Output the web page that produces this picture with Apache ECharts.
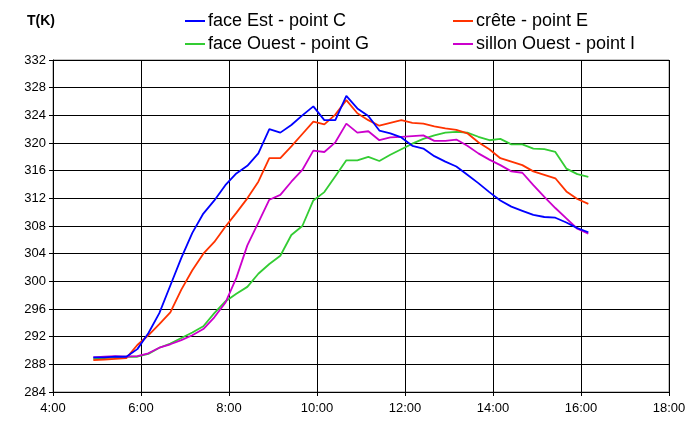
<!DOCTYPE html>
<html><head><meta charset="utf-8">
<script src="https://cdn.jsdelivr.net/npm/echarts@6/dist/echarts.min.js"></script>
<style>html,body{margin:0;padding:0;background:#fff}#c{width:693px;height:425px}</style>
</head><body><div id="c"></div>
<script>
const times = ["4:55","5:10","5:25","5:40","5:55","6:10","6:25","6:40","6:55","7:10","7:25","7:40","7:55","8:10","8:25","8:40","8:55","9:10","9:25","9:40","9:55","10:10","10:25","10:40","10:55","11:10","11:25","11:40","11:55","12:10","12:25","12:40","12:55","13:10","13:25","13:40","13:55","14:10","14:25","14:40","14:55","15:10","15:25","15:40","15:55","16:10"];
const faceEstC = [289.0,289.0,289.1,289.1,290.2,292.5,295.4,299.4,303.4,307.0,309.8,311.7,313.9,315.6,316.7,318.5,322.0,321.5,322.6,324.0,325.3,323.3,323.3,326.8,325.0,323.9,321.8,321.4,320.8,319.6,319.2,318.1,317.3,316.6,315.4,314.2,312.9,311.7,310.8,310.2,309.6,309.3,309.2,308.5,307.7,307.1];
const creteE = [288.6,288.7,288.8,288.9,290.8,292.2,293.8,295.5,298.8,301.6,304.0,305.7,307.9,309.9,312.0,314.4,317.8,317.8,319.5,321.3,323.1,322.7,324.1,326.2,324.3,323.3,322.5,322.9,323.3,322.9,322.8,322.4,322.1,321.9,321.4,320.1,319.1,317.8,317.3,316.8,315.9,315.4,314.9,313.0,311.9,311.2];
const faceOuestG = [288.8,288.9,289.0,289.1,289.1,289.5,290.4,291.0,291.8,292.6,293.5,295.4,297.1,298.2,299.2,301.1,302.5,303.7,306.7,308.0,311.7,312.9,315.2,317.5,317.5,318.0,317.4,318.3,319.1,319.9,320.6,321.1,321.5,321.6,321.5,320.9,320.4,320.6,319.8,319.8,319.2,319.1,318.7,316.3,315.5,315.1];
const sillonOuestI = [289.0,289.1,289.2,289.1,289.2,289.6,290.4,290.9,291.5,292.2,293.1,294.8,296.9,300.5,305.2,308.5,311.8,312.5,314.4,316.1,318.9,318.7,320.1,322.8,321.5,321.7,320.4,320.8,320.9,321.0,321.1,320.3,320.3,320.5,319.6,318.5,317.6,316.8,315.9,315.7,313.9,312.2,310.6,309.1,307.6,306.9];
const xTickLabels = ["4:00","6:00","8:00","10:00","12:00","14:00","16:00","18:00"];

function toHours(s){const p=s.split(':');return +p[0]+(+p[1])/60;}
function pts(arr){return arr.map((v,i)=>[toHours(times[i]),v]);}

const names = ["face Est - point C","crête - point E","face Ouest - point G","sillon Ouest - point I"];
const colors = ["#0000ff","#ff3300","#33cc33","#cc00cc"];
const datas = [faceEstC, creteE, faceOuestG, sillonOuestI];

const chart = echarts.init(document.getElementById('c'));
const font = 'Liberation Sans, Arial, sans-serif';
const legText = {fontSize:18,color:'#000',lineHeight:18,fontFamily:font,padding:[0,0,0,-2]};
chart.setOption({
  animation:false,
  backgroundColor:'#fff',
  textStyle:{fontFamily:font},
  title:{text:'T(K)',left:22,top:9,textStyle:{fontSize:14,fontWeight:'bold',color:'#000',fontFamily:font}},
  legend:[
    {data:[names[0],names[2]],orient:'vertical',left:180,top:7,itemWidth:20,itemHeight:2,itemGap:5,icon:'rect',textStyle:legText},
    {data:[names[1],names[3]],orient:'vertical',left:448,top:7,itemWidth:20,itemHeight:2,itemGap:5,icon:'rect',textStyle:legText}
  ],
  grid:{left:53,right:24,top:60,bottom:33,show:true,borderColor:'#888',borderWidth:1},
  xAxis:{type:'value',min:4,max:18,interval:2,
    axisLine:{show:true,lineStyle:{color:'#000'}},
    axisTick:{show:true,length:4,lineStyle:{color:'#000'}},
    splitLine:{show:true,lineStyle:{color:'#000',width:1}},
    axisLabel:{color:'#000',fontSize:13,margin:10,fontFamily:font,formatter:(v)=>xTickLabels[Math.round((v-4)/2)]}},
  yAxis:{type:'value',min:284,max:332,interval:4,
    axisLine:{show:true,lineStyle:{color:'#000'}},
    axisTick:{show:true,length:4,lineStyle:{color:'#000'}},
    splitLine:{show:true,lineStyle:{color:'#000',width:1}},
    axisLabel:{color:'#000',fontSize:13,margin:7,fontFamily:font}},
  series:datas.map((d,k)=>({name:names[k],type:'line',data:pts(d),showSymbol:false,symbol:'none',
    lineStyle:{color:colors[k],width:1.8},itemStyle:{color:colors[k]},z:[5,3,2,4][k]}))
});
</script></body></html>
